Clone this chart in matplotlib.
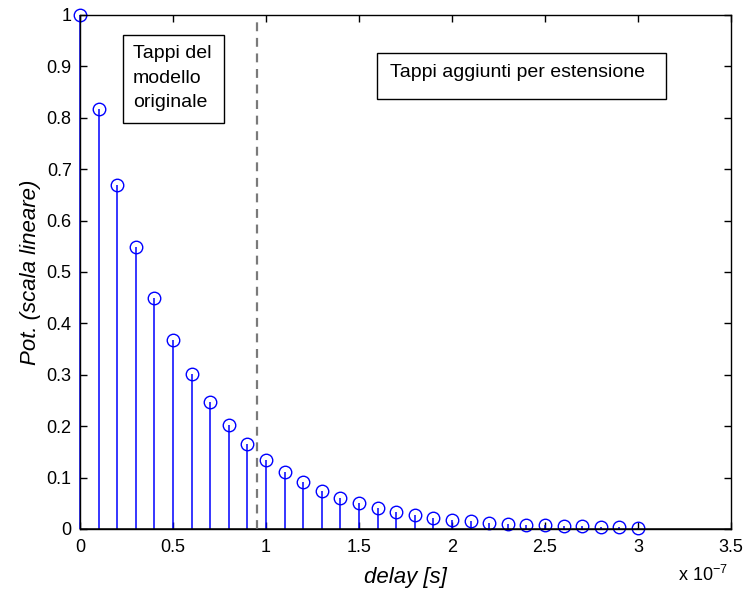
import numpy as np
import matplotlib
matplotlib.use("Agg")
import matplotlib.pyplot as plt
from matplotlib.patches import Rectangle

plt.rcParams["font.family"] = ["Liberation Sans", "DejaVu Sans"]
plt.rcParams["mathtext.fontset"] = "custom"
plt.rcParams["mathtext.rm"] = "Liberation Sans"
plt.rcParams["mathtext.it"] = "Liberation Sans:italic"

# ritardi dei tappi (in unita' di 1e-7 s) e potenza lineare
delay = [0.0, 0.1, 0.2, 0.3, 0.4, 0.5, 0.6, 0.7, 0.8, 0.9,
         1.0, 1.1, 1.2, 1.3, 1.4, 1.5, 1.6, 1.7, 1.8, 1.9,
         2.0, 2.1, 2.2, 2.3, 2.4, 2.5, 2.6, 2.7, 2.8, 2.9, 3.0]
pot = [1.000, 0.818, 0.670, 0.549, 0.449, 0.368, 0.301, 0.247, 0.202, 0.165,
       0.135, 0.111, 0.091, 0.074, 0.061, 0.050, 0.041, 0.033, 0.027, 0.022,
       0.018, 0.015, 0.012, 0.010, 0.008, 0.007, 0.006, 0.005, 0.004, 0.003,
       0.002]
cut_delay = 0.95  # fine del modello originale

x_ticks = [0, 0.5, 1, 1.5, 2, 2.5, 3, 3.5]
x_labels = ["0", "0.5", "1", "1.5", "2", "2.5", "3", "3.5"]
y_ticks = [0, 0.1, 0.2, 0.3, 0.4, 0.5, 0.6, 0.7, 0.8, 0.9, 1]
y_labels = ["0", "0.1", "0.2", "0.3", "0.4", "0.5", "0.6", "0.7", "0.8", "0.9", "1"]

fig = plt.figure(figsize=(7.46, 5.90), dpi=100)
ax = fig.add_axes([0.1072, 0.1034, 0.8728, 0.8712])

markers, stems, base = ax.stem(delay, pot, basefmt="k-")
plt.setp(stems, color="blue", linewidth=1.1)
plt.setp(markers, color="blue", marker="o", markersize=9,
         markerfacecolor="none", markeredgewidth=1)
plt.setp(base, color="black", linewidth=1.8)
base.set_xdata([0, 3.5])
for a in (markers, stems):
    a.set_clip_on(False)

ax.axvline(cut_delay, color="#7a7a7a", linestyle=(0, (4, 3)), linewidth=1.6)

ax.set_xlim(0, 3.5)
ax.set_ylim(0, 1)
ax.set_xticks(x_ticks)
ax.set_xticklabels(x_labels)
ax.set_yticks(y_ticks)
ax.set_yticklabels(y_labels)
ax.tick_params(direction="in", length=5, width=1, labelsize=13,
               top=True, right=True)
ax.tick_params(axis="x", pad=7)
ax.tick_params(axis="y", pad=6)
for s in ax.spines.values():
    s.set_linewidth(1)

ax.set_xlabel("delay [s]", fontsize=16, fontstyle="italic", labelpad=8)
ax.set_ylabel("Pot. (scala lineare)", fontsize=16, fontstyle="italic", labelpad=4)

fig.text(0.909, 0.008, r"x 10$^{-7}$", fontsize=13, ha="left", va="bottom")

# riquadri di testo
ax.add_patch(Rectangle((0.1649, 0.7915), 0.1354, 0.1492, transform=fig.transFigure,
                       facecolor="white", edgecolor="black", linewidth=1,
                       clip_on=False, zorder=4))
fig.text(0.1783, 0.924, "Tappi del\nmodello\noriginale", fontsize=14,
         ha="left", va="top", linespacing=1.6, zorder=5)

ax.add_patch(Rectangle((0.5054, 0.8322), 0.3874, 0.0780, transform=fig.transFigure,
                       facecolor="white", edgecolor="black", linewidth=1,
                       clip_on=False, zorder=4))
fig.text(0.5228, 0.8695, "Tappi aggiunti per estensione", fontsize=14,
         ha="left", va="baseline", zorder=5)

fig.savefig("out.png", dpi=100)
